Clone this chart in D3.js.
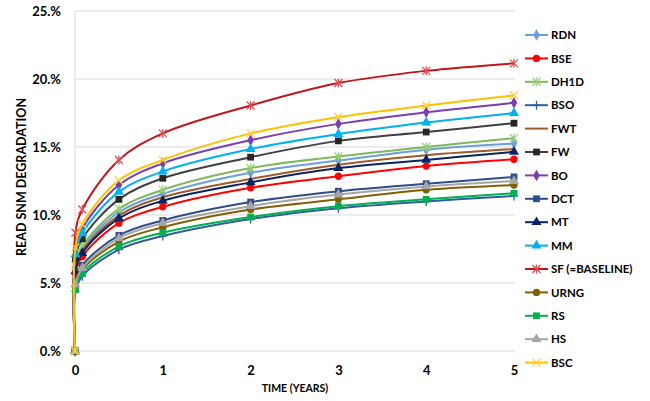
<!DOCTYPE html>
<html>
<head>
<meta charset="utf-8">
<script src="https://cdn.jsdelivr.net/npm/d3@7"></script>
<style>
  body { margin: 0; background: #fff; }
  text { font-family: Lato, "Open Sans", sans-serif; font-weight: bold; fill: #000; }
</style>
</head>
<body>
<svg></svg>
<script>
/* data */
let years = [0, 0.005, 0.083, 0.5, 1, 2, 3, 4, 5];
let yTicks = [0, 5, 10, 15, 20, 25];
let xTicks = [0, 1, 2, 3, 4, 5];
let names = ["RDN", "BSE", "DH1D", "BSO", "FWT", "FW", "BO", "DCT", "MT", "MM", "SF (=BASELINE)", "URNG", "RS", "HS", "BSC"];

let rdn  = [0, 6.15, 7.5, 10.2, 11.55, 13.1, 14.0, 14.8, 15.25];
let bse  = [0, 5.7, 6.95, 9.4, 10.6, 12.0, 12.85, 13.6, 14.1];
let dh1d = [0, 6.3, 7.7, 10.45, 11.85, 13.45, 14.3, 15.0, 15.65];
let bso  = [0, 4.4, 5.5, 7.45, 8.45, 9.7, 10.5, 11.0, 11.4];
let fwt  = [0, 6.0, 7.35, 9.95, 11.3, 12.65, 13.7, 14.4, 14.85];
let fw   = [0, 6.8, 8.25, 11.15, 12.7, 14.25, 15.45, 16.1, 16.75];
let bo   = [0, 7.4, 9.0, 12.2, 13.8, 15.5, 16.7, 17.55, 18.25];
let dct  = [0, 5.1, 6.3, 8.5, 9.6, 10.95, 11.75, 12.3, 12.8];
let mt   = [0, 5.85, 7.2, 9.75, 11.05, 12.4, 13.45, 14.05, 14.65];
let mm   = [0, 7.1, 8.65, 11.7, 13.2, 14.85, 15.95, 16.8, 17.5];
let sf   = [0, 8.7, 10.4, 14.05, 16.0, 18.05, 19.7, 20.6, 21.15];
let urng = [0, 4.75, 5.95, 8.05, 9.1, 10.4, 11.15, 11.85, 12.2];
let rs   = [0, 4.5, 5.7, 7.7, 8.7, 9.85, 10.65, 11.15, 11.6];
let hs   = [0, 4.9, 6.1, 8.3, 9.4, 10.65, 11.5, 12.1, 12.5];
let bsc  = [0, 7.6, 9.3, 12.55, 14.05, 16.0, 17.2, 18.05, 18.8];

let values = [rdn, bse, dh1d, bso, fwt, fw, bo, dct, mt, mm, sf, urng, rs, hs, bsc];

/* styles per series */
let lineColors = ["#6A9FDB", "#FF0000", "#7DB85A", "#2F5E9C", "#9E5A2A", "#404040", "#7A3DB2", "#2F4C8A",
                  "#0A2463", "#00B0F0", "#C0161C", "#806000", "#00B050", "#A5A5A5", "#FFC000"];
let markColors = ["#6A9FDB", "#FF0000", "#9BD07A", "#2F5E9C", null, "#262626", "#7A3DB2", "#2F4C8A",
                  "#0A2463", "#00B0F0", "#E05055", "#806000", "#00B050", "#A5A5A5", "#FFD040"];
let markers = ["diamond", "circle", "star", "plus", "none", "square", "diamond", "square",
               "triangle", "triangle", "star", "circle", "square", "triangle", "x"];

/* basic setup */
let svgWidth = 650;
let svgHeight = 401;
const svg = d3.select("svg")
    .attr("width", svgWidth)
    .attr("height", svgHeight);

let x = d3.scaleLinear().domain([0, 5]).range([75, 514]);
let y = d3.scaleLinear().domain([0, 25]).range([351, 11]);

// gridlines
svg.selectAll(".grid")
    .data(yTicks)
    .enter()
    .append("line")
    .attr("x1", x(0))
    .attr("x2", 515)
    .attr("y1", d => y(d))
    .attr("y2", d => y(d))
    .attr("stroke", "#D9D9D9")
    .attr("stroke-width", 1);

svg.append("line")
    .attr("x1", x(0)).attr("x2", x(0))
    .attr("y1", y(25)).attr("y2", y(0))
    .attr("stroke", "#D9D9D9");

// axes
let yAxis = d3.axisLeft(y).tickValues(yTicks).tickSize(0).tickPadding(0)
    .tickFormat(d => d + ".%");
svg.append("g")
    .attr("transform", "translate(61,0)")
    .call(yAxis)
    .call(g => g.select(".domain").remove())
    .selectAll("text")
    .style("font-size", "13px")
    .style("font-family", "Lato, sans-serif")
    .style("font-weight", "bold")
    .attr("dy", "0.35em");

let xAxis = d3.axisBottom(x).tickValues(xTicks).tickSize(0).tickPadding(0)
    .tickFormat(d3.format("d"));
svg.append("g")
    .attr("transform", "translate(0,366)")
    .call(xAxis)
    .call(g => g.select(".domain").remove())
    .selectAll("text")
    .style("font-size", "13px")
    .style("font-family", "Lato, sans-serif")
    .style("font-weight", "bold");

svg.append("text")
    .attr("x", 295).attr("y", 392)
    .attr("text-anchor", "middle")
    .style("font-size", "10.5px")
    .text("TIME (YEARS)");

svg.append("text")
    .attr("transform", "translate(26,177) rotate(-90)")
    .attr("text-anchor", "middle")
    .style("font-size", "12.5px")
    .text("READ SNM DEGRADATION");

/* markers */
function drawMarker(g, type, color, cx, cy) {
    if (type === "none") return;
    let s = 4;
    if (type === "x" || type === "star" || type === "plus") {
        let p = "";
        if (type !== "plus") p += `M${cx - s},${cy - s}L${cx + s},${cy + s}M${cx - s},${cy + s}L${cx + s},${cy - s}`;
        if (type !== "x") p += `M${cx},${cy - s - 0.5}L${cx},${cy + s + 0.5}`;
        if (type === "plus") p += `M${cx - s},${cy}L${cx + s},${cy}`;
        g.append("path").attr("d", p).attr("stroke", color).attr("stroke-width", 1.3).attr("fill", "none");
        return;
    }
    let sym = { diamond: d3.symbolDiamond, circle: d3.symbolCircle, square: d3.symbolSquare, triangle: d3.symbolTriangle }[type];
    let size = { diamond: 38, circle: 42, square: 46, triangle: 44 }[type];
    g.append("path")
        .attr("d", d3.symbol().type(sym).size(size)())
        .attr("transform", `translate(${cx},${cy})`)
        .attr("fill", color);
}

/* lines */
let line = d3.line()
    .x((d, i) => x(years[i]))
    .y(d => y(d))
    .curve(d3.curveCatmullRom.alpha(0.5));

values.forEach((vals, k) => {
    let g = svg.append("g");
    g.append("path")
        .attr("d", line(vals))
        .attr("fill", "none")
        .attr("stroke", lineColors[k])
        .attr("stroke-width", 2);
    vals.forEach((v, i) => drawMarker(g, markers[k], markColors[k], x(years[i]), y(v)));
});

/* legend */
let legend = svg.selectAll(".legend")
    .data(names)
    .enter()
    .append("g")
    .attr("transform", (d, i) => "translate(525," + (35 + i * 23.4) + ")");

legend.append("line")
    .attr("x1", 0).attr("x2", 23)
    .attr("stroke", (d, i) => lineColors[i])
    .attr("stroke-width", 2);

legend.each(function (d, i) {
    drawMarker(d3.select(this), markers[i], markColors[i], 11.5, 0);
});

legend.append("text")
    .attr("x", 26)
    .attr("dy", "0.36em")
    .style("font-size", "11.5px")
    .text(d => d);
</script>
</body>
</html>
